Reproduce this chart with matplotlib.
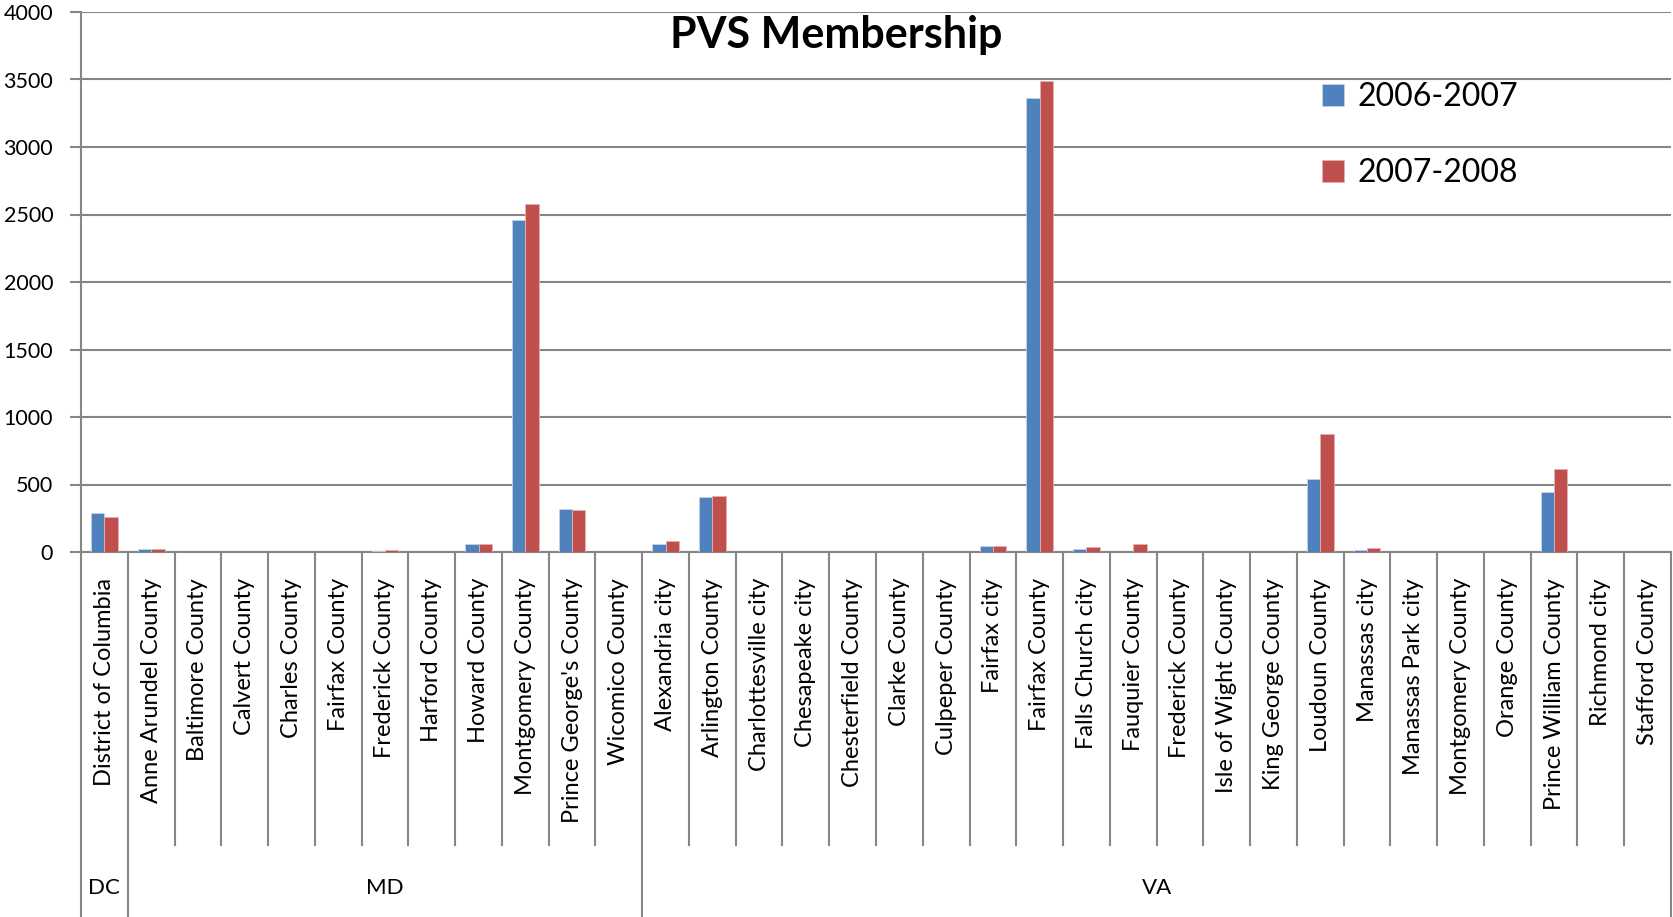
import matplotlib
matplotlib.use("Agg")
import matplotlib.pyplot as plt
from matplotlib.lines import Line2D
import numpy as np

plt.rcParams['font.family'] = ['Lato', 'DejaVu Sans']

# Données
groups = ["DC", "MD", "VA"]
dc_names = ["District of Columbia"]
md_names = ["Anne Arundel County", "Baltimore County", "Calvert County", "Charles County",
            "Fairfax County", "Frederick County", "Harford County", "Howard County",
            "Montgomery County", "Prince George's County", "Wicomico County"]
va_names = ["Alexandria city", "Arlington County", "Charlottesville city", "Chesapeake city",
            "Chesterfield County", "Clarke County", "Culpeper County", "Fairfax city",
            "Fairfax County", "Falls Church city", "Fauquier County", "Frederick County",
            "Isle of Wight County", "King George County", "Loudoun County", "Manassas city",
            "Manassas Park city", "Montgomery County", "Orange County", "Prince William County",
            "Richmond city", "Stafford County"]

dc_0607 = [287]
md_0607 = [25, 0, 0, 0, 0, 7, 0, 57, 2457, 315, 0]
va_0607 = [60, 407, 0, 0, 0, 0, 0, 45, 3363, 25, 0, 0, 0, 0, 540, 12, 0, 0, 0, 442, 0, 0]

dc_0708 = [262]
md_0708 = [20, 0, 0, 0, 0, 15, 0, 60, 2577, 312, 0]
va_0708 = [82, 412, 0, 0, 0, 0, 0, 43, 3492, 37, 57, 0, 0, 0, 873, 27, 0, 0, 0, 615, 0, 0]

names = dc_names + md_names + va_names
v0607 = dc_0607 + md_0607 + va_0607
v0708 = dc_0708 + md_0708 + va_0708
group_sizes = [len(dc_names), len(md_names), len(va_names)]

W, H = 1673, 917
fig = plt.figure(figsize=(W / 100, H / 100), dpi=100)
ax = fig.add_axes([81 / W, (H - 552) / H, (1671 - 81) / W, (552 - 12) / H])

grid_c = "#868686"
x = np.arange(len(names))
bw = 0.286
ax.bar(x - bw / 2, v0607, bw, color="#4F81BD", edgecolor="#C6D3E6", linewidth=0.6,
       label="2006-2007", zorder=3)
ax.bar(x + bw / 2, v0708, bw, color="#C0504D", edgecolor="#E2B1B0", linewidth=0.6,
       label="2007-2008", zorder=3)

ax.set_xlim(-0.5, len(names) - 0.5)
ax.set_ylim(0, 4000)
ax.set_yticks(np.arange(0, 4001, 500))
ax.tick_params(axis="y", labelsize=15.5, length=8, width=1.5, color=grid_c, pad=12)
ax.yaxis.grid(True, color=grid_c, linewidth=1.5, zorder=0)
ax.set_axisbelow(True)
for s in ["top", "right"]:
    ax.spines[s].set_visible(False)
ax.spines["left"].set_color(grid_c)
ax.spines["left"].set_linewidth(1.5)
ax.spines["bottom"].set_color(grid_c)
ax.spines["bottom"].set_linewidth(1.5)

# axe des catégories à deux niveaux
ax.set_xticks([])
trans = ax.get_xaxis_transform()
px = 1.0 / (552 - 12)  # un pixel en coordonnées d'axe (vertical)
cat_bottom = -(845 - 552) * px
fig_bottom = -(917 - 552) * px
for i, n in enumerate(names):
    ax.text(i, -26 * px, n, rotation=90, ha="center", va="top", fontsize=17,
            transform=trans)

bounds = np.cumsum([0] + group_sizes) - 0.5
for b in np.arange(-0.5, len(names)):
    full = np.any(np.isclose(b, bounds))
    ax.add_line(Line2D([b, b], [0, fig_bottom if full else cat_bottom], transform=trans,
                       color=grid_c, linewidth=1.5, clip_on=False))
for g, lo, hi in zip(groups, bounds[:-1], bounds[1:]):
    ax.text((lo + hi) / 2, -(888 - 552) * px, g, ha="center", va="center", fontsize=16,
            transform=trans)

fig.text(836 / W, (H - 35) / H, "PVS Membership", ha="center", va="center",
         fontsize=31, fontweight="bold")

ax.legend(loc="upper left", bbox_to_anchor=(1322 / W, (H - 82) / H),
          bbox_transform=fig.transFigure, frameon=False, fontsize=23,
          handlelength=0.7, handleheight=0.7, handletextpad=0.4,
          labelspacing=1.45, borderpad=0, borderaxespad=0)

plt.savefig("out.png", dpi=100)
plt.close()
